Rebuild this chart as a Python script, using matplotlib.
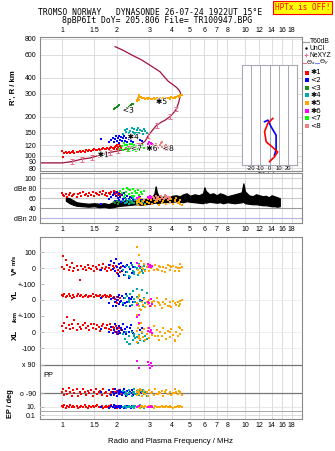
import matplotlib
matplotlib.use("Agg")
import matplotlib.pyplot as plt
import matplotlib.patheffects as pe
from matplotlib.ticker import FixedLocator, FixedFormatter, NullLocator
from matplotlib.lines import Line2D

# ---------------- data ----------------
freq_ticks = [1, 1.5, 2, 3, 4, 5, 6, 7, 8, 10, 12, 14, 16, 18]
freq_labels = ["1", "1.5", "2", "3", "4", "5", "6", "7", "8", "10", "12", "14", "16", "18"]
height_ticks = [80, 90, 100, 120, 150, 200, 300, 400, 600, 800]
amp_ticks = [100, 80, 60, 40, 20]
amp_labels = ["100", "dBe 80", "60", "40", "dBn 20"]

# cluster 1 (red, *1)
c1_f = [1.00,1.01,1.03,1.05,1.07,1.09,1.11,1.13,1.15,1.17,1.20,1.22,1.25,1.27,1.30,1.33,1.35,1.38,1.41,1.44,1.47,1.50,1.53,1.56,1.59,1.62,1.65,1.68,1.71,1.74,1.77,1.80,1.83,1.86,1.89,1.92,1.95,1.97,1.99,2.01,2.03,2.05,2.07,2.09]
c1_h = [109,98,104,106,105,107,104,106,108,105,107,106,108,106,109,107,110,108,111,109,110,112,110,111,113,111,112,114,112,113,115,113,114,116,114,112,116,118,113,121,117,124,119,114]
c1_amp = [70,66,64,68,62,66,71,64,67,69,63,68,70,65,72,66,69,64,71,67,73,65,70,68,66,72,69,74,67,71,65,70,68,73,66,75,69,72,64,70,67,71,65,68]
c1_vs = [10,78,-5,52,20,-10,5,30,-15,0,12,-8,-73,15,-3,8,-12,20,2,-6,14,-18,6,-2,18,-10,4,25,-5,10,-14,3,22,-8,12,0,-20,15,-30,5,-12,25,-25,8]
c1_yl = [30,22,35,18,28,40,25,15,32,20,27,38,22,30,18,26,33,20,28,24,35,17,30,25,22,31,19,27,34,21,26,16,29,23,12,18,5,-10,20,-20,0,-25,10,-5]
c1_xl = [40,10,60,25,95,45,20,55,30,75,15,50,35,20,45,60,25,40,15,50,30,55,20,45,35,10,40,55,25,30,45,20,50,15,35,25,5,40,-10,20,0,30,-5,15]
c1_pp = [-80,-60,-100,-75,-95,-55,-85,-105,-70,-90,-65,-110,-80,-95,-60,-85,-100,-75,-90,-70,-105,-80,-65,-95,-85,-75,-100,-60,-90,-80,-110,-70,-95,-85,-65,-100,-80,-90,-75,-105,-85,-70,-95,-80]
c1_ep = [12,8,20,6,15,10,25,7,14,9,18,5,11,16,8,22,10,6,13,9,17,7,12,20,8,11,15,6,10,18,9,13,7,24,11,8,14,10,5,16,9,12,7,10]

# cluster 2 (blue, <2)
c2_f = [1.63,1.80,1.86,1.90,1.93,1.96,1.98,2.00,2.02,2.04,2.06,2.08,2.10,2.13,2.16,2.19,2.22,2.25,2.28,2.31,2.34,2.37,2.40,2.44,2.68,2.75]
c2_h = [134,128,132,138,127,135,141,130,137,126,143,133,139,129,136,142,131,138,127,134,140,130,136,128,133,130]
c2_amp = [48,58,62,66,70,55,64,72,60,68,57,63,53,66,59,70,61,55,65,58,62,52,60,56,63,57]
c2_vs = [-10,20,45,-5,30,-20,55,10,-35,25,-50,0,35,-15,15,-40,5,-25,20,-60,-5,30,-30,10,5,-10]
c2_yl = [10,-20,5,-35,15,-10,-40,0,20,-25,30,-15,-5,25,-30,10,-20,40,-10,15,-35,5,20,-15,0,-5]
c2_xl = [20,5,35,-5,15,50,0,25,-10,40,10,-5,30,15,55,0,20,-10,35,5,25,45,10,-5,15,30]
c2_pp = [-85,-70,-100,-80,-95,-65,-90,-105,-75,-85,-95,-70,-80,-100,-90,-60,-85,-110,-75,-95,-80,-90,-70,-100,-85,-90]
c2_ep = [10,6,15,8,20,5,12,9,7,14,11,4,18,8,10,6,13,9,16,7,11,5,12,8,10,9]

# cluster 3 (dark green, <3)
c3_f = [1.93,1.96,1.99,2.03,2.06,2.25,2.28,2.31,2.34,2.37,2.40,2.44]
c3_h = [228,232,236,240,244,226,232,238,243,248,252,250]
c3_amp = [52,50,54,49,53,51,55,48,52,50,54,51]

# cluster 4 (teal, *4)
c4_f = [2.15,2.20,2.24,2.28,2.32,2.36,2.40,2.44,2.48,2.52,2.56,2.60,2.64,2.68,2.72,2.76,2.80,2.85,2.90,2.32,2.46,2.58]
c4_h = [148,158,152,162,150,156,164,153,160,149,157,163,151,159,155,148,161,154,150,146,147,150]
c4_amp = [55,50,58,52,49,56,53,60,51,57,48,54,59,50,55,52,57,49,53,56,51,54]
c4_vs = [-10,-40,15,-25,5,-55,20,-15,-35,10,-5,-45,25,0,-20,-30,15,-10,5,-50,-25,0]
c4_yl = [-20,10,-35,25,-10,40,-30,55,5,-15,70,-25,30,-5,60,-40,15,-20,45,0,-10,20]
c4_xl = [-10,-40,5,-60,-25,-75,0,-50,-20,-35,10,-65,-15,-45,-5,-30,-55,-20,-40,-70,-10,-30]
c4_pp = [-75,-95,-80,-100,-70,-90,-105,-85,-65,-95,-80,-90,-100,-75,-85,-70,-95,-80,-110,-90,-85,-75]
c4_ep = [9,14,6,11,18,7,10,13,5,16,8,12,9,20,7,11,6,14,10,8,12,9]

# cluster 5 (orange, *5)
c5_f = [2.56,2.58,2.60,2.62,2.64,2.68,2.72,2.76,2.80,2.85,2.90,2.95,3.00,3.06,3.12,3.18,3.24,3.30,3.37,3.44,3.51,3.58,3.65,3.72,3.80,3.88,3.96,4.04,4.12,4.20,4.28,4.36,4.44,4.52,2.62,2.70,3.35,3.90,4.15,4.40]
c5_h = [262,270,280,288,295,283,279,277,281,276,279,274,278,272,276,280,274,277,273,278,275,279,276,281,277,280,283,279,282,285,288,286,292,296,268,285,270,275,280,290]
c5_amp = [50,55,47,58,52,60,48,54,57,46,53,59,50,56,49,61,52,55,47,58,51,54,60,49,56,52,58,48,55,61,50,53,57,46,54,51,59,52,56,48]
c5_vs = [30,135,-10,83,20,-25,10,-5,25,-15,5,15,-20,0,10,-10,20,-5,15,5,-15,10,-25,0,20,-10,5,15,-20,10,0,-15,25,5,-30,45,-8,12,-18,3]
c5_yl = [-20,-94,10,-40,25,-55,-10,-30,5,-45,-15,-25,0,-35,-10,-5,-40,15,-20,-30,-50,-10,-25,5,-35,-15,-45,-5,-20,-30,-10,-40,-25,0,30,-60,-15,-35,-20,-5]
c5_xl = [10,-60,30,-20,50,-40,0,-30,20,-50,-10,25,-35,5,-15,40,-25,15,-45,0,-20,30,-5,-40,10,-30,20,-15,-55,5,-25,35,-10,15,-35,60,-20,0,-45,25]
c5_pp = [-80,-100,-70,-95,-85,-60,-105,-90,-75,-95,-80,-110,-70,-90,-85,-100,-65,-95,-80,-90,-75,-105,-85,-70,-95,-80,-100,-90,-65,-85,-95,-75,-90,-100,-80,-70,-95,-85,-90,-80]
c5_ep = [10,7,14,9,12,6,16,8,11,13,7,10,18,9,12,6,14,8,11,10,15,7,9,12,8,13,10,6,11,9,14,8,12,10,7,16,9,11,8,13]

# cluster 6 (magenta, *6)
c6_f = [2.58,2.64,2.96,3.00,3.04,3.08,3.12]
c6_h = [118,120,124,128,122,126,123]
c6_amp = [60,62,63,61,64,60,62]
c6_vs = [30,15,25,10,20,5,15]
c6_yl = [-30,-95,-10,-20,-35,5,-25]
c6_xl = [97,60,10,25,0,15,-5]
c6_pp = [115,71,108,88,67,100,80]
c6_ep = [10,12,9,11,10,13,8]

# cluster 7 (lime, <7)
c7_f = [2.08,2.12,2.16,2.20,2.24,2.28,2.32,2.36,2.40,2.44,2.48,2.52,2.56,2.60,2.65,2.70,2.75,2.80,2.18,2.30,2.42,2.54]
c7_h = [112,118,110,122,115,120,112,124,117,111,121,114,119,113,118,116,120,114,125,109,123,108]
c7_amp = [75,70,78,66,73,80,68,76,71,79,65,74,70,77,67,72,69,75,62,78,64,71]

# cluster 8 (salmon, <8)
c8_f = [3.15,3.20,3.25,3.30,3.36,3.42,3.48,3.54,3.60,3.66,3.72,3.78,3.84,3.90,3.28,3.50,3.70]
c8_h = [120,116,123,118,114,121,125,117,112,119,122,115,118,113,111,127,110]
c8_amp = [62,58,65,60,63,57,64,61,59,66,60,62,58,63,56,61,64]

# noise / unclassified amplitude band (black)
amp_f = [1.05,1.10,1.15,1.20,1.30,1.40,1.50,1.60,1.70,1.80,1.90,2.00,2.10,2.25,2.40,2.55,2.70,2.85,3.00,3.10,3.20,3.25,3.30,3.40,3.55,3.70,3.85,4.00,4.20,4.40,4.60,4.80,5.00,5.30,5.60,5.90,6.00,6.10,6.40,6.70,7.00,7.30,7.60,8.00,8.40,8.80,9.20,9.60,9.80,10.00,10.50,11.00,11.50,12.00,12.50,13.00,13.50,14.00,14.50,15.00,15.50]
amp_lo = [55,50,47,45,44,43,44,42,43,41,42,44,45,46,47,48,47,48,49,50,51,52,50,51,52,53,52,53,54,53,52,54,53,52,51,50,52,51,53,52,51,52,50,52,51,50,51,52,53,50,49,48,48,47,46,46,45,44,44,43,44]
amp_hi = [62,60,56,52,50,49,50,49,50,48,52,55,55,55,56,57,58,58,60,62,70,84,72,62,63,64,62,65,66,64,68,70,65,68,66,70,82,75,68,70,66,70,68,64,66,68,70,72,90,74,66,64,68,66,64,65,62,66,64,62,60]

# real-height profile and its error bars
prof_f = [0.76,1.00,1.13,1.28,1.42,1.61,1.83,2.03,2.35,2.67,2.85,2.97,3.13,3.29,3.50,3.66,3.89,4.08,4.24,4.35,4.45,4.44,4.38,4.24,4.02,3.81,3.60,3.43,3.02,2.73,2.40,2.16,1.95]
prof_h = [88,88,90,94,96,101,106,109,114,121,130,144,158,172,182,188,200,215,232,260,297,305,318,335,355,375,410,445,500,547,600,650,695]
err_f = [1.13,1.28,1.45,1.62,1.83,2.03,2.30,2.60,2.95,3.30,3.88,4.22]
err_h = [90,94,97,101,106,109,113,120,143,172,200,230]
err_dh = [4,4,4,4,4,5,5,5,6,7,8,9]

# tilt profiles
tx_deg = [3.6,-1.8,-5.4,-3.6,2.9,8.9,5.4,0.0]
tx_h = [194,178,153,128,117,107,98,90]
ty_deg = [-5.4,-1.8,1.8,7.2,7.2,7.2,5.4]
ty_h = [183,188,167,144,125,111,101]
tilt_ticks = [-20, -10, 0, 10, 20]

cluster_names = ["\u27311", "<2", "<3", "\u27314", "\u27315", "\u27316", "<7", "<8"]
cluster_colors = ["#ff0000", "#0000ff", "#1a8c1a", "#00a8a8", "#ffa500", "#ff00ff", "#00ff00", "#f08080"]

# ---------------- figure ----------------
W, H = 335, 451
plt.rcParams['font.family'] = ['Liberation Sans', 'DejaVu Sans']
fig = plt.figure(figsize=(W / 100, H / 100), dpi=100)
fig.patch.set_facecolor('white')

def add_ax(l, t, r, b, **kw):
    return fig.add_axes([l / W, 1 - b / H, (r - l) / W, (b - t) / H], **kw)

XLIM = (0.758, 20.5)
GRID = '#dcdcdc'
FRAME = '#8a8a8a'
TFS = 5.0
MS = 4.3

def freq_axis(ax, where):
    ax.set_xscale('log')
    ax.set_xlim(*XLIM)
    ax.xaxis.set_major_locator(FixedLocator(freq_ticks))
    ax.xaxis.set_minor_locator(NullLocator())
    ax.xaxis.set_major_formatter(FixedFormatter(freq_labels))
    ax.grid(axis='x', color=GRID, lw=0.7)
    ax.set_axisbelow(True)
    for s in ax.spines.values():
        s.set_color(FRAME)
        s.set_linewidth(0.8)
    if where == 'top':
        ax.xaxis.tick_top()
        ax.tick_params(axis='x', length=0, pad=1.8, labelsize=TFS)
    elif where == 'bottom':
        ax.tick_params(axis='x', length=0, pad=2.5, labelsize=TFS)
    else:
        ax.tick_params(axis='x', length=0, labelbottom=False)

def sq(ax, f, v, c, z=3):
    ax.scatter(f, v, s=MS, marker='s', c=c, linewidths=0, zorder=z)

# title
fig.text(150 / W, 1 - 12.3 / H, "TROMSO NORWAY   DYNASONDE 26-07-24 1922UT 15\u00b0E",
         ha='center', va='center', family='DejaVu Sans Mono', fontsize=5.75)
fig.text(157 / W, 1 - 20.5 / H, "8pBP6It DoY= 205.806 File= TR100947.BPG",
         ha='center', va='center', family='DejaVu Sans Mono', fontsize=5.9)
fig.text(302.5 / W, 1 - 7.3 / H, "HPTx is OFF!", ha='center', va='center',
         family='DejaVu Sans Mono', fontsize=5.5, color='#ff0000',
         bbox=dict(boxstyle='square,pad=0.25', fc='#ffff00', ec='#ff0000', lw=0.8))

# ---- height panel ----
axh = add_ax(40, 37, 302, 171)
freq_axis(axh, 'top')
axh.set_yscale('log')
axh.set_ylim(76.2, 824)
axh.yaxis.set_major_locator(FixedLocator(height_ticks))
axh.yaxis.set_minor_locator(NullLocator())
axh.yaxis.set_major_formatter(FixedFormatter([str(t) for t in height_ticks]))
axh.tick_params(axis='y', length=0, pad=2.5, labelsize=TFS)
axh.grid(axis='y', color=GRID, lw=0.7)

axh.plot(prof_f, prof_h, color='#a0103c', lw=0.9, zorder=2)
axh.errorbar(err_f, err_h, yerr=err_dh, fmt='none', ecolor='#e8708c', elinewidth=0.7,
             capsize=1.3, capthick=0.7, zorder=2)

h_sets = [(c1_f, c1_h), (c2_f, c2_h), (c3_f, c3_h), (c4_f, c4_h),
          (c5_f, c5_h), (c6_f, c6_h), (c7_f, c7_h), (c8_f, c8_h)]
for (f, h), col in zip(h_sets, cluster_colors):
    sq(axh, f, h, col)

lab_f = [1.68, 2.45, 2.30, 3.50, 3.10, 2.55, 3.80]
lab_h = [102, 140, 225, 262, 114, 114, 114]
lab_t = [cluster_names[0], cluster_names[3], cluster_names[2], cluster_names[4],
         cluster_names[5], cluster_names[6], cluster_names[7]]
for f, h, t in zip(lab_f, lab_h, lab_t):
    axh.text(f, h, t, fontsize=5.5, ha='center', va='center', color='black', zorder=5,
             family=['DejaVu Sans'],
             path_effects=[pe.withStroke(linewidth=1.2, foreground='white')])

fig.text(13 / W, 1 - 88 / H, "R', R / km", rotation=90, ha='center', va='center',
         fontsize=5.6, fontweight='bold')

# tilt inset
axt = add_ax(242, 65, 297, 165)
axt.set_facecolor('white')
axt.set_xlim(-30, 30)
axt.set_yscale('log')
axt.set_ylim(84.8, 501)
axt.xaxis.set_major_locator(FixedLocator(tilt_ticks))
axt.xaxis.set_major_formatter(FixedFormatter([str(t) for t in tilt_ticks]))
axt.yaxis.set_major_locator(NullLocator())
axt.yaxis.set_minor_locator(NullLocator())
axt.grid(axis='x', color='#a8a8b8', lw=0.7)
axt.tick_params(axis='x', length=0, pad=1.0, labelsize=4.2)
axt.set_xlabel("Tilt / deg", fontsize=4.2, labelpad=0.5)
for s in axt.spines.values():
    s.set_color('#a8a8b8')
    s.set_linewidth(0.8)
axt.plot(ty_deg, ty_h, color='#0000ff', lw=1.2, zorder=3)
axt.plot(tx_deg, tx_h, color='#ff0000', lw=1.2, zorder=3)

# legend (drawn in its own pixel-space axes)
axl = add_ax(302, 37, 335, 132)
axl.set_xlim(302, 335)
axl.set_ylim(132, 37)
axl.axis('off')
lfs = 4.9
axl.add_line(Line2D([303, 309], [41.7, 41.7], color='#a0a0a0', lw=0.9))
axl.text(310, 41.7, "T60dB", fontsize=lfs, va='center')
axl.plot([306], [48.3], marker='.', ms=1.5, color='black')
axl.text(310, 48.3, "UnCl", fontsize=lfs, va='center')
axl.plot([306], [55.3], marker='+', ms=3.5, mew=0.7, color='#e8708c')
axl.text(310, 55.3, "NeXYZ", fontsize=lfs, va='center')
axl.add_line(Line2D([302.5, 306], [62.5, 62.5], color='#e8708c', lw=0.8))
axl.text(306.3, 62.5, r"$\Theta_x$", fontsize=4.6, va='center')
axl.add_line(Line2D([315, 319], [62.5, 62.5], color='#8080ff', lw=0.8))
axl.text(319.3, 62.5, r"$\Theta_y$", fontsize=4.6, va='center')
for i, (nm, col) in enumerate(zip(cluster_names, cluster_colors)):
    y = 72.5 + i * 7.65
    axl.plot([306.5], [y], marker='s', ms=2.2, mew=0, color=col)
    axl.text(310.5, y, nm, fontsize=5.3, va='center', family=['DejaVu Sans'])

# ---- amplitude panel ----
axa = add_ax(40, 173, 302, 223)
freq_axis(axa, 'bottom')
axa.set_ylim(10.1, 111)
axa.yaxis.set_major_locator(FixedLocator(amp_ticks))
axa.yaxis.set_major_formatter(FixedFormatter(amp_labels))
axa.tick_params(axis='y', length=0, pad=2.5, labelsize=TFS)
for v, c in zip(amp_ticks, ['#d0d0d0', '#c8c8c8', '#c8c8c8', '#9a9a9a', '#b4b4e6']):
    axa.axhline(v, color=c, lw=0.8, zorder=1)
axa.fill_between(amp_f, amp_lo, amp_hi, color='black', lw=0.9, zorder=2)
a_sets = [(c1_f, c1_amp), (c2_f, c2_amp), (c3_f, c3_amp), (c4_f, c4_amp),
          (c5_f, c5_amp), (c6_f, c6_amp), (c7_f, c7_amp), (c8_f, c8_amp)]
for (f, a), col in zip(a_sets, cluster_colors):
    sq(axa, f, a, col)

# ---- lower panel ----
axb = add_ax(40, 237, 302, 419)
freq_axis(axb, 'bottom')
axb.set_ylim(0, 1)
axb.yaxis.set_major_locator(NullLocator())
axb.set_xlabel("Radio and Plasma Frequency / MHz", fontsize=5.6, labelpad=6)

def sub_ax(t, b, ylim, ticks, labels, log=False):
    ax = add_ax(40, t, 302, b)
    ax.patch.set_alpha(0)
    ax.set_xscale('log')
    ax.set_xlim(*XLIM)
    ax.xaxis.set_major_locator(NullLocator())
    ax.xaxis.set_minor_locator(NullLocator())
    if log:
        ax.set_yscale('log')
    ax.set_ylim(*ylim)
    ax.yaxis.set_major_locator(FixedLocator(ticks))
    ax.yaxis.set_minor_locator(NullLocator())
    ax.yaxis.set_major_formatter(FixedFormatter(labels))
    ax.tick_params(axis='y', direction='in', length=3, width=0.6, color='#b0b0b0',
                   pad=3, labelsize=TFS)
    for s in ax.spines.values():
        s.set_visible(False)
    return ax

axv = sub_ax(237, 284.3, (-100, 195.6), [100, 0, -100], ["100", "0", "+-100"])
axy = sub_ax(284.3, 316, (-100, 98), [0, -100], ["0", "+-100"])
axx = sub_ax(316, 356, (-148, 102), [0, -100], ["0", "-100"])
axp = sub_ax(356, 399, (-126, 145), [90, -90], ["x 90", "o -90"])
axe = sub_ax(399, 419, (0.0109, 716), [10, 0.1], ["10.", "0.1"], log=True)

for ax, vals in [(axv, [100, 0]), (axy, [0]), (axx, [0, -100])]:
    for v in vals:
        ax.axhline(v, color='#ececec', lw=0.6, zorder=1)
for v in [90, -90]:
    axp.axhline(v, color='#767676', lw=0.9, zorder=1)
axe.axhline(10, color='#e4e4e4', lw=0.6, zorder=1)
axe.axhline(1, color='#a8a8a8', lw=0.7, zorder=1)
axe.axhline(0.1, color='#dcdcdc', lw=0.7, zorder=1)

low_clusters = [
    (c1_f, c1_vs, c1_yl, c1_xl, c1_pp, c1_ep, cluster_colors[0]),
    (c2_f, c2_vs, c2_yl, c2_xl, c2_pp, c2_ep, cluster_colors[1]),
    (c4_f, c4_vs, c4_yl, c4_xl, c4_pp, c4_ep, cluster_colors[3]),
    (c5_f, c5_vs, c5_yl, c5_xl, c5_pp, c5_ep, cluster_colors[4]),
    (c6_f, c6_vs, c6_yl, c6_xl, c6_pp, c6_ep, cluster_colors[5]),
]
for f, vs, yl, xl, pp, ep, col in low_clusters:
    sq(axv, f, vs, col)
    sq(axy, f, yl, col)
    sq(axx, f, xl, col)
    sq(axp, f, pp, col)
    sq(axe, f, ep, col)

axp.text(0.79, 22, "PP", fontsize=5.3, va='center', ha='left')

fig.text(14 / W, 1 - 260 / H, "m/s", rotation=90, ha='center', va='center', fontsize=4.2, fontweight='bold')
fig.text(15.5 / W, 1 - 271 / H, "V*", rotation=90, ha='center', va='center', fontsize=5.8, fontweight='bold')
fig.text(15.5 / W, 1 - 295 / H, "YL", rotation=90, ha='center', va='center', fontsize=5.8, fontweight='bold')
fig.text(15.5 / W, 1 - 317 / H, "/km", rotation=90, ha='center', va='center', fontsize=4.6, fontweight='bold')
fig.text(15.5 / W, 1 - 335 / H, "XL", rotation=90, ha='center', va='center', fontsize=5.8, fontweight='bold')
fig.text(11 / W, 1 - 404 / H, "EP / deg", rotation=90, ha='center', va='center', fontsize=5.3, fontweight='bold')

fig.savefig("out.png", dpi=100)
